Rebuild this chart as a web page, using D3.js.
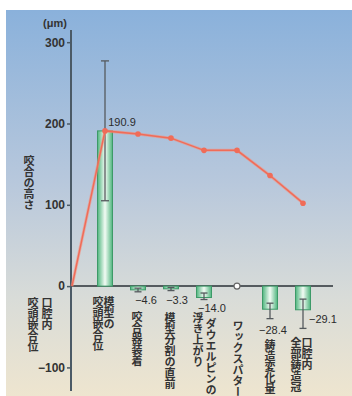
<!DOCTYPE html>
<html><head><meta charset="utf-8">
<script src="https://cdn.jsdelivr.net/npm/d3@7"></script>
<style>
html,body{margin:0;padding:0;background:#fff;}
svg{display:block;}
</style></head>
<body>
<svg id="chart" width="352" height="396"></svg>
<script>
// ---- data ----
const categories = ["口腔内\n咬頭嵌合位", "模型の\n咬頭嵌合位", "咬合器装着", "模型分割の直前", "ダウエルピンの\n浮き上がり", "ワックスパターン", "鋳造変化量", "口腔内\n全部鋳造冠"];
const changes = [null, 190.9, -4.6, -3.3, -14.0, 0, -28.4, -29.1];
const valueLabels = ["", "190.9", "−4.6", "−3.3", "−14.0", "", "−28.4", "−29.1"];
const errLow = [null, 105, -7, -5.5, -16.5, null, -40, -52];
const errHigh = [null, 277, -2.5, -1.5, -8.5, null, -21, -16];
const heights = [0, 190.9, 187, 182, 167, 167, 136, 102];
const yTicks = [-100, 0, 100, 200, 300];
const yTitle = "咬合の高さ";
const unitLabel = "(μm)";

// ---- layout ----
const svg = d3.select("#chart");
const x = d3.scalePoint().domain(d3.range(categories.length)).range([72, 303]);
const y = d3.scaleLinear().domain([-129, 315]).range([391, 30]);

const defs = svg.append("defs");
const bg = defs.append("linearGradient").attr("id", "bg").attr("x1", 0).attr("y1", 0).attr("x2", 0).attr("y2", 1);
bg.append("stop").attr("offset", "0%").attr("stop-color", "#8ab1db");
bg.append("stop").attr("offset", "45%").attr("stop-color", "#b8c8dc");
bg.append("stop").attr("offset", "75%").attr("stop-color", "#d9dcd8");
bg.append("stop").attr("offset", "100%").attr("stop-color", "#eee5cf");
const bar = defs.append("linearGradient").attr("id", "barg").attr("x1", 0).attr("y1", 0).attr("x2", 1).attr("y2", 0);
bar.append("stop").attr("offset", "0%").attr("stop-color", "#4fb57e");
bar.append("stop").attr("offset", "50%").attr("stop-color", "#f2fbf4");
bar.append("stop").attr("offset", "100%").attr("stop-color", "#4fb57e");

svg.append("rect").attr("x", 6).attr("y", 10).attr("width", 346).attr("height", 386).attr("fill", "url(#bg)");

const numFont = "'Liberation Sans', Arial, sans-serif";
const jpFont = "'Noto Sans CJK JP', sans-serif";

function vtext(str, cx, top) {
  svg.append("text").attr("x", cx).attr("y", top).style("writing-mode", "vertical-rl")
    .attr("font-family", jpFont).attr("font-size", 11).attr("font-weight", "bold").attr("fill", "#333")
    .text(str);
}

// y axis
const yAxis = d3.axisLeft(y).tickValues(yTicks).tickSize(4).tickPadding(2)
  .tickFormat(d => d < 0 ? "−" + Math.abs(d) : d);
const ga = svg.append("g").attr("transform", `translate(${x(0) - 1},0)`).call(yAxis);
ga.select(".domain").attr("stroke", "#4b5a66").attr("stroke-width", 2).attr("d", `M0,${y.range()[1]}V${y.range()[0]}`);
ga.selectAll(".tick line").attr("stroke", "#4b5a66").attr("stroke-width", 1.5);
ga.selectAll(".tick text").attr("fill", "#333").attr("font-family", numFont).attr("font-size", 12).attr("font-weight", "bold");

// unit
svg.append("text").attr("x", 55).attr("y", 27).attr("text-anchor", "middle")
  .attr("font-family", numFont).attr("font-size", 11).attr("fill", "#333").attr("font-weight", "bold").text(unitLabel);

// y title
vtext(yTitle, 29, 155);

// zero baseline
svg.append("line").attr("x1", x(0)).attr("x2", 333).attr("y1", y(0)).attr("y2", y(0))
  .attr("stroke", "#555b5f").attr("stroke-width", 2);

// bars
const bw = 15;
const barIdx = d3.range(categories.length).filter(i => changes[i] !== null && changes[i] !== 0);
svg.append("g").selectAll("rect").data(barIdx).join("rect")
  .attr("x", i => x(i) - bw / 2)
  .attr("y", i => y(Math.max(0, changes[i])))
  .attr("width", bw)
  .attr("height", i => Math.abs(y(changes[i]) - y(0)))
  .attr("fill", "url(#barg)").attr("stroke", "#3d9a68").attr("stroke-width", 1);

// error bars
const eg = svg.append("g").attr("stroke", "#555a5e").attr("stroke-width", 1.3);
barIdx.forEach(i => {
  const cw = i === 1 ? 4 : 3.5;
  eg.append("line").attr("x1", x(i)).attr("x2", x(i)).attr("y1", y(errHigh[i])).attr("y2", y(errLow[i]));
  eg.append("line").attr("x1", x(i) - cw).attr("x2", x(i) + cw).attr("y1", y(errHigh[i])).attr("y2", y(errHigh[i]));
  eg.append("line").attr("x1", x(i) - cw).attr("x2", x(i) + cw).attr("y1", y(errLow[i])).attr("y2", y(errLow[i]));
});

// open circle for zero change
d3.range(categories.length).filter(i => changes[i] === 0).forEach(i => {
  svg.append("circle").attr("cx", x(i)).attr("cy", y(0)).attr("r", 3)
    .attr("fill", "#fff").attr("stroke", "#666").attr("stroke-width", 1.2);
});

// line
const line = d3.line().x((d, i) => x(i)).y(d => y(d));
svg.append("path").datum(heights).attr("d", line).attr("fill", "none")
  .attr("stroke", "#f58f7e").attr("stroke-width", 3).attr("stroke-opacity", 0.6);
svg.append("path").datum(heights).attr("d", line).attr("fill", "none")
  .attr("stroke", "#f06c58").attr("stroke-width", 1.5);
svg.append("g").selectAll("circle").data(heights.slice(1)).join("circle")
  .attr("cx", (d, i) => x(i + 1)).attr("cy", d => y(d)).attr("r", 2.8).attr("fill", "#f06c58");

// value labels (offsets relative to bar position)
const labelPos = {
  1: {dx: 17, v: 190.9, dy: -5},
  2: {dx: 8, v: -7, dy: 12},
  3: {dx: 6, v: -5.5, dy: 13},
  4: {dx: 8, v: -16.5, dy: 12},
  6: {dx: 3, v: -40, dy: 15},
  7: {dx: 20, v: -40, dy: 4}
};
Object.keys(labelPos).forEach(k => {
  const i = +k, p = labelPos[k];
  svg.append("text").attr("x", x(i) + p.dx).attr("y", y(p.v) + p.dy).attr("text-anchor", "middle")
    .attr("font-family", numFont).attr("font-size", 11).attr("fill", "#2b2b2b").text(valueLabels[i]);
});

// category labels (vertical)
const catPos = [
  [[-25, 297], [-39, 297]],
  [[4, 296], [-7, 296]],
  [[-1, 311]],
  [[-1, 312]],
  [[7, 318], [-6, 312]],
  [[1, 320]],
  [[0, 339]],
  [[4, 337], [-7, 337]]
];
categories.forEach((c, i) => {
  c.split("\n").forEach((part, j) => {
    const p = catPos[i][j];
    vtext(part, x(i) + p[0], p[1]);
  });
});
</script>
</body></html>
